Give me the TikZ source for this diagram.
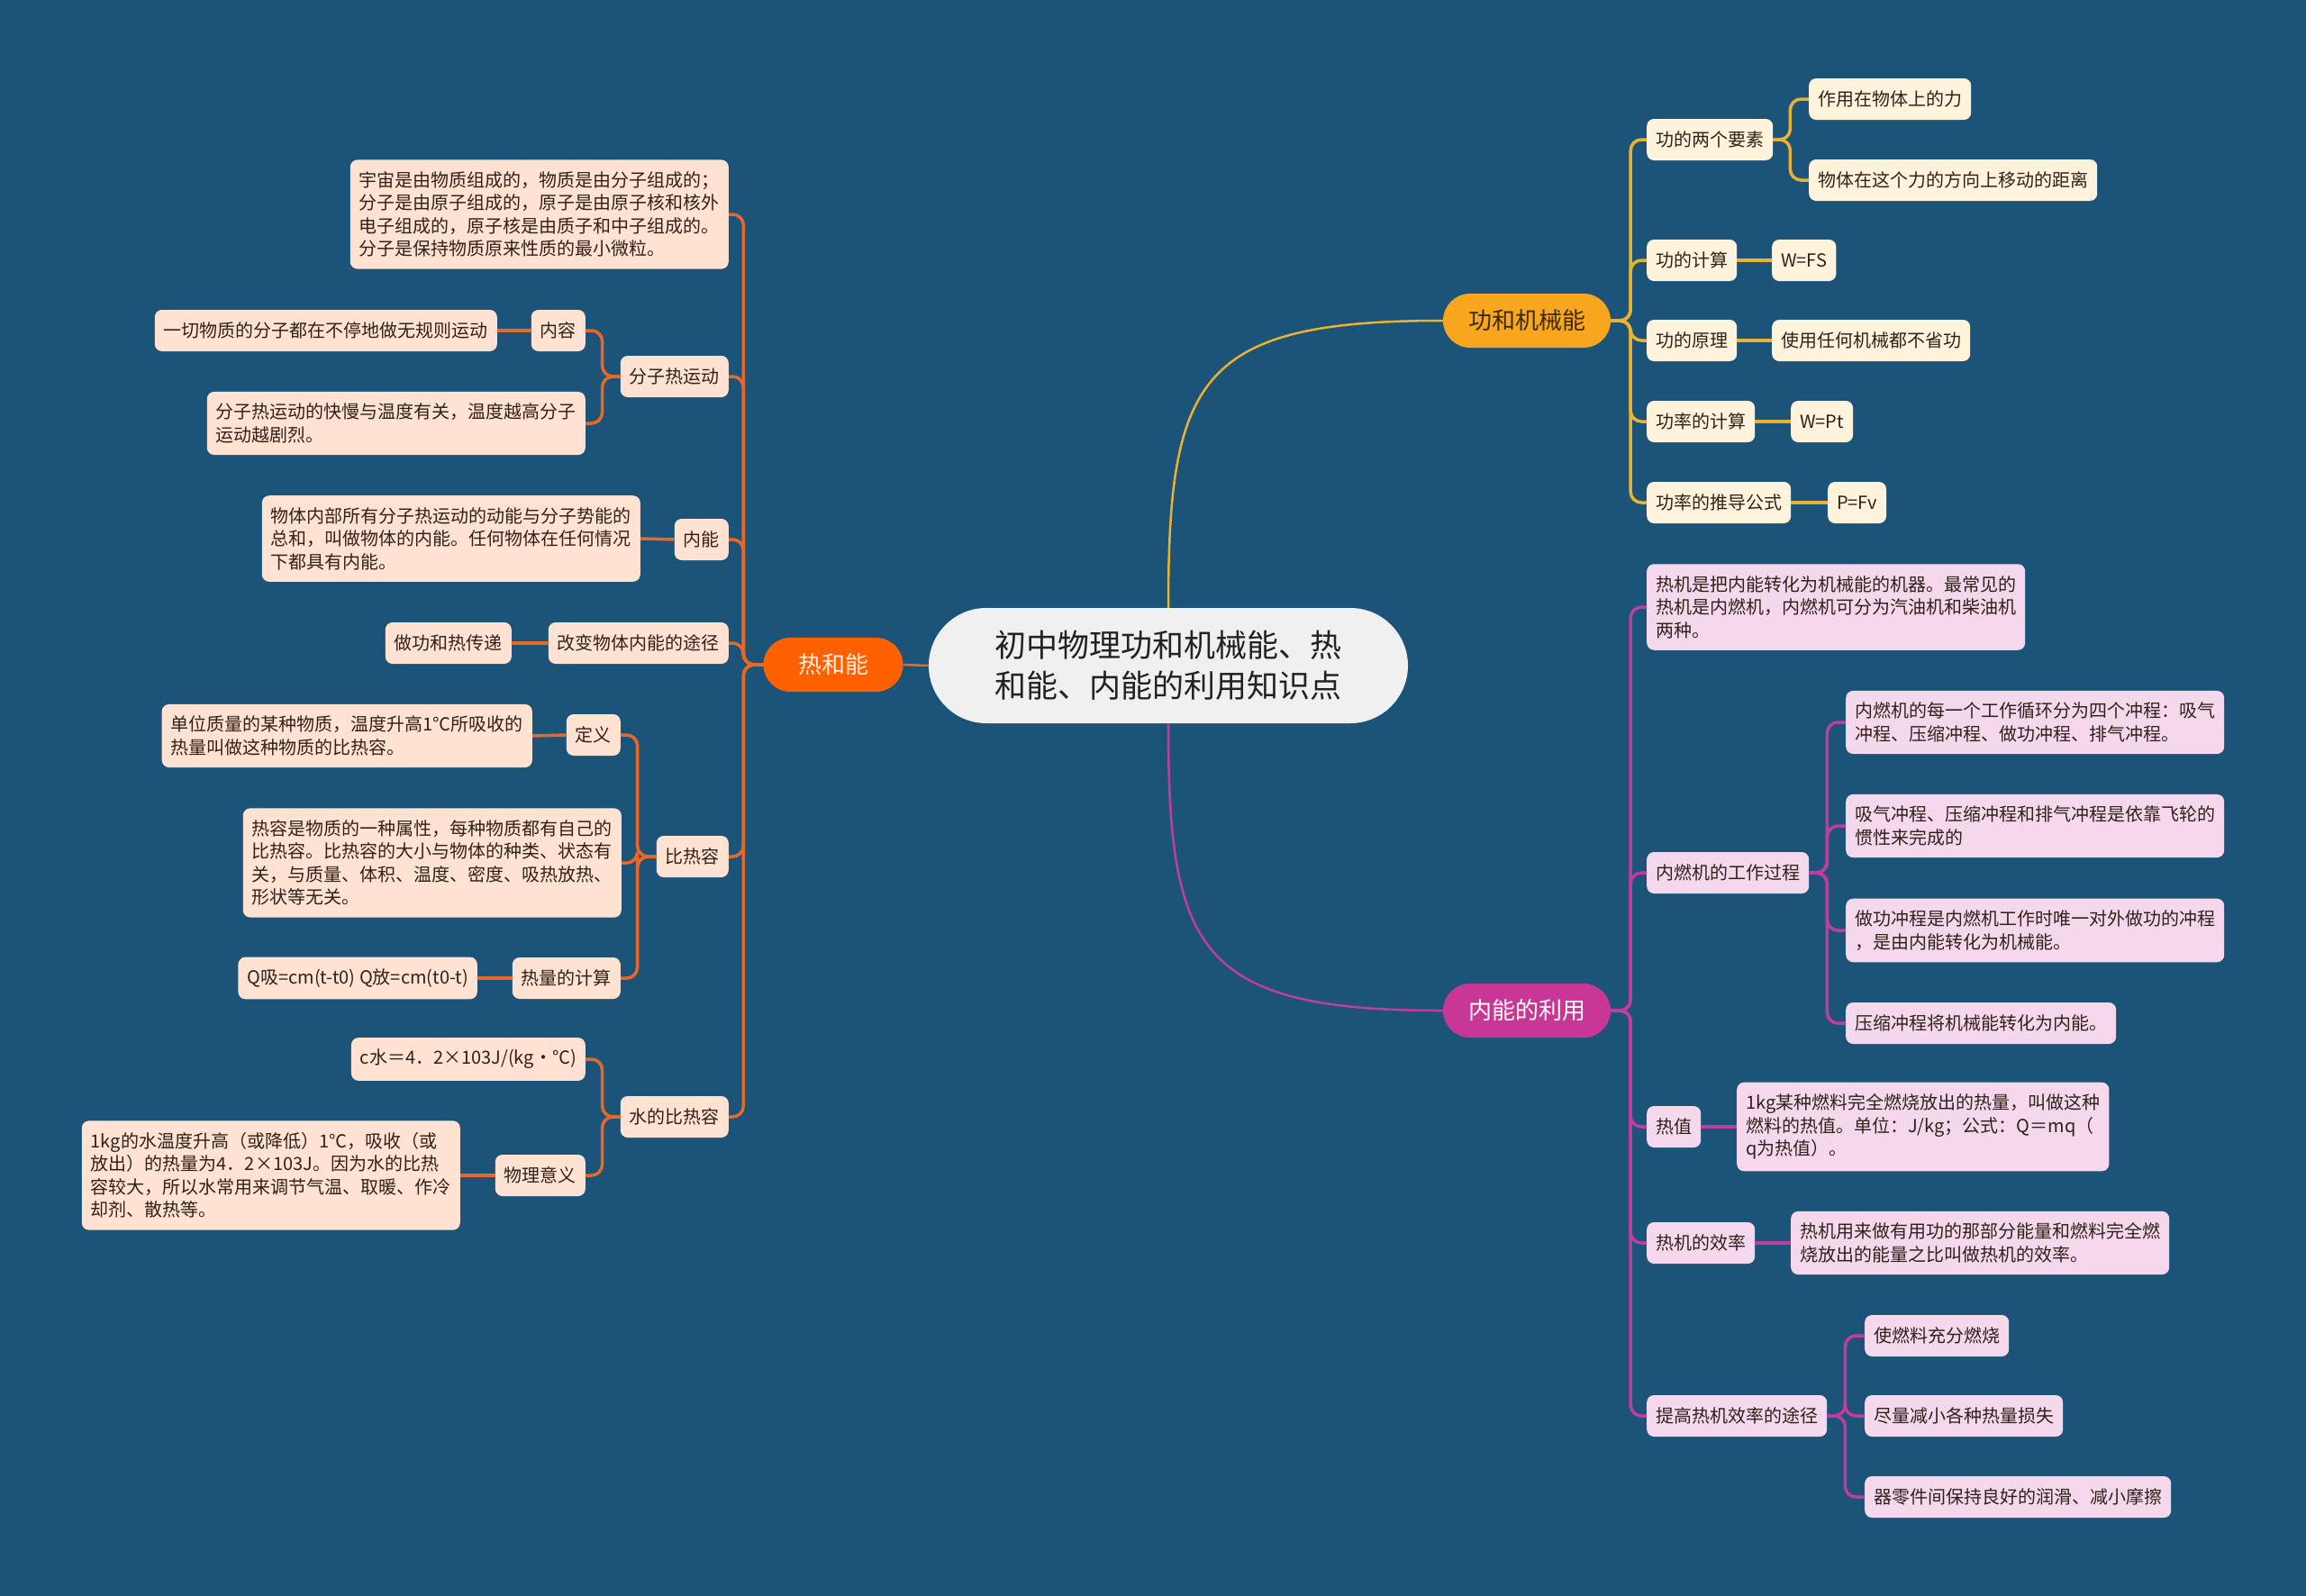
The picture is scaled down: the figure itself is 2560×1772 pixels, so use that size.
\documentclass[tikz,border=0pt]{standalone}
\usepackage{fontspec}
\setmainfont{Noto Sans CJK SC}
\begin{document}
\begin{tikzpicture}[x=1pt,y=-1pt,
  leaf/.style={rounded corners=8pt,inner xsep=10pt,inner ysep=13pt,minimum height=46pt,
    font=\fontsize{20}{25.5}\selectfont,align=left,text=leaftext},
  yleaf/.style={leaf,fill=ycream},
  oleaf/.style={leaf,fill=opeach},
  mleaf/.style={leaf,fill=mpink},
  branch/.style={rounded corners=30pt,minimum height=60pt,minimum width=155pt,inner xsep=28pt,
    font=\fontsize{26}{30}\selectfont},
  ylink/.style={draw=yline,line width=3.5pt,rounded corners=12pt},
  olink/.style={draw=oline,line width=3.5pt,rounded corners=12pt},
  mlink/.style={draw=mline,line width=3.5pt,rounded corners=12pt}]
  \definecolor{bgblue}{RGB}{27,84,120}
  \definecolor{rootfill}{RGB}{240,240,240}
  \definecolor{ybranch}{RGB}{248,166,30}
  \definecolor{obranch}{RGB}{255,96,0}
  \definecolor{mbranch}{RGB}{201,55,150}
  \definecolor{yline}{RGB}{234,178,50}
  \definecolor{oline}{RGB}{232,104,40}
  \definecolor{mline}{RGB}{192,60,160}
  \definecolor{ycream}{RGB}{255,243,220}
  \definecolor{opeach}{RGB}{255,226,210}
  \definecolor{mpink}{RGB}{246,216,236}
  \definecolor{leaftext}{RGB}{48,34,26}

  \fill[bgblue] (0,0) rectangle (2560,1772);
  \useasboundingbox (0,0) rectangle (2560,1772);

  \node[fill=rootfill,rounded corners=64pt,minimum width=532pt,minimum height=128pt,
    font=\fontsize{35}{45}\selectfont,align=center,text={rgb,255:red,34;green,34;blue,34}]
    (root) at (1297,739) {初中物理功和机械能、热\\和能、内能的利用知识点};

  \node[branch,fill=ybranch,text={rgb,255:red,60;green,40;blue,10}] (gong) at (1695,356) {功和机械能};
  \node[branch,fill=obranch,text={rgb,255:red,255;green,242;blue,228}] (rehe) at (925,738) {热和能};
  \node[branch,fill=mbranch,text=white] (neng) at (1695,1122) {内能的利用};

  \draw[yline,line width=2.5pt] (root.north) .. controls (1297,420) and (1330,356) .. (gong.west);
  \draw[mline,line width=2.5pt] (root.south) .. controls (1297,1056) and (1330,1122) .. (neng.west);
  \draw[oline,line width=2.5pt] (root.west) -- (rehe.east);

  \node[yleaf,anchor=west] (g1) at (1828,155) {功的两个要素};
  \node[yleaf,anchor=west] (g11) at (2008,110) {作用在物体上的力};
  \node[yleaf,anchor=west] (g12) at (2008,200) {物体在这个力的方向上移动的距离};
  \node[yleaf,anchor=west] (g2) at (1828,289) {功的计算};
  \node[yleaf,anchor=west] (g21) at (1967,289) {W=FS};
  \node[yleaf,anchor=west] (g3) at (1828,378) {功的原理};
  \node[yleaf,anchor=west] (g31) at (1967,378) {使用任何机械都不省功};
  \node[yleaf,anchor=west] (g4) at (1828,468) {功率的计算};
  \node[yleaf,anchor=west] (g41) at (1988,468) {W=Pt};
  \node[yleaf,anchor=west] (g5) at (1828,558) {功率的推导公式};
  \node[yleaf,anchor=west] (g51) at (2029,558) {P=Fv};

  \foreach \n in {g1,g2,g3,g4,g5}
    {\draw[ylink] (gong.east) -- ++(22,0) |- (\n.west);}
  \foreach \n in {g11,g12}
    {\draw[ylink] (g1.east) -- ++(19,0) |- (\n.west);}
  \foreach \a/\b in {g2/g21,g3/g31,g4/g41,g5/g51}
    {\draw[ylink] (\a.east) -- (\b.west);}

  \node[mleaf,anchor=west] (n1) at (1828,674) {热机是把内能转化为机械能的机器。最常见的\\热机是内燃机，内燃机可分为汽油机和柴油机\\两种。};
  \node[mleaf,anchor=west] (n2) at (1828,969) {内燃机的工作过程};
  \node[mleaf,anchor=west] (n21) at (2049,802) {内燃机的每一个工作循环分为四个冲程：吸气\\冲程、压缩冲程、做功冲程、排气冲程。};
  \node[mleaf,anchor=west] (n22) at (2049,917) {吸气冲程、压缩冲程和排气冲程是依靠飞轮的\\惯性来完成的};
  \node[mleaf,anchor=west] (n23) at (2049,1033) {做功冲程是内燃机工作时唯一对外做功的冲程\\，是由内能转化为机械能。};
  \node[mleaf,anchor=west] (n24) at (2049,1136) {压缩冲程将机械能转化为内能。};
  \node[mleaf,anchor=west] (n3) at (1828,1251) {热值};
  \node[mleaf,anchor=west] (n31) at (1928,1251) {1kg某种燃料完全燃烧放出的热量，叫做这种\\燃料的热值。单位：J/kg；公式：Q＝mq（\\q为热值）。};
  \node[mleaf,anchor=west] (n4) at (1828,1380) {热机的效率};
  \node[mleaf,anchor=west] (n41) at (1988,1380) {热机用来做有用功的那部分能量和燃料完全燃\\烧放出的能量之比叫做热机的效率。};
  \node[mleaf,anchor=west] (n5) at (1828,1572) {提高热机效率的途径};
  \node[mleaf,anchor=west] (n51) at (2070,1483) {使燃料充分燃烧};
  \node[mleaf,anchor=west] (n52) at (2070,1572) {尽量减小各种热量损失};
  \node[mleaf,anchor=west] (n53) at (2070,1662) {器零件间保持良好的润滑、减小摩擦};

  \foreach \n in {n1,n2,n3,n4,n5}
    {\draw[mlink] (neng.east) -- ++(22,0) |- (\n.west);}
  \foreach \n in {n21,n22,n23,n24}
    {\draw[mlink] (n2.east) -- ++(20,0) |- (\n.west);}
  \foreach \n in {n51,n52,n53}
    {\draw[mlink] (n5.east) -- ++(20,0) |- (\n.west);}
  \draw[mlink] (n3.east) -- (n31.west);
  \draw[mlink] (n4.east) -- (n41.west);

  \node[oleaf,anchor=east] (r1) at (809,238) {宇宙是由物质组成的，物质是由分子组成的；\\分子是由原子组成的，原子是由原子核和核外\\电子组成的，原子核是由质子和中子组成的。\\分子是保持物质原来性质的最小微粒。};
  \node[oleaf,anchor=east] (r2) at (809,418) {分子热运动};
  \node[oleaf,anchor=east] (r21) at (650,367) {内容};
  \node[oleaf,anchor=east] (r211) at (552,367) {一切物质的分子都在不停地做无规则运动};
  \node[oleaf,anchor=east] (r22) at (650,470) {分子热运动的快慢与温度有关，温度越高分子\\运动越剧烈。};
  \node[oleaf,anchor=east] (r3) at (809,599) {内能};
  \node[oleaf,anchor=east] (r31) at (711,598) {物体内部所有分子热运动的动能与分子势能的\\总和，叫做物体的内能。任何物体在任何情况\\下都具有内能。};
  \node[oleaf,anchor=east] (r4) at (809,714) {改变物体内能的途径};
  \node[oleaf,anchor=east] (r41) at (568,714) {做功和热传递};
  \node[oleaf,anchor=east] (r5) at (809,951) {比热容};
  \node[oleaf,anchor=east] (r51) at (689,816) {定义};
  \node[oleaf,anchor=east] (r511) at (591,817) {单位质量的某种物质，温度升高1℃所吸收的\\热量叫做这种物质的比热容。};
  \node[oleaf,anchor=east] (r52) at (690,958) {热容是物质的一种属性，每种物质都有自己的\\比热容。比热容的大小与物体的种类、状态有\\关，与质量、体积、温度、密度、吸热放热、\\形状等无关。};
  \node[oleaf,anchor=east] (r53) at (689,1086) {热量的计算};
  \node[oleaf,anchor=east] (r531) at (530,1086) {Q吸=cm(t-t0) Q放=cm(t0-t)};
  \node[oleaf,anchor=east] (r6) at (809,1240) {水的比热容};
  \node[oleaf,anchor=east] (r61) at (650,1176) {c水＝4．2×103J/(kg·℃)};
  \node[oleaf,anchor=east] (r62) at (650,1305) {物理意义};
  \node[oleaf,anchor=east] (r621) at (511,1305) {1kg的水温度升高（或降低）1℃，吸收（或\\放出）的热量为4．2×103J。因为水的比热\\容较大，所以水常用来调节气温、取暖、作冷\\却剂、散热等。};

  \foreach \n in {r1,r2,r3,r4,r5,r6}
    {\draw[olink] (rehe.west) -- ++(-22,0) |- (\n.east);}
  \foreach \n in {r21,r22}
    {\draw[olink] (r2.west) -- ++(-20,0) |- (\n.east);}
  \foreach \n in {r51,r52,r53}
    {\draw[olink] (r5.west) -- ++(-21,0) |- (\n.east);}
  \foreach \n in {r61,r62}
    {\draw[olink] (r6.west) -- ++(-20,0) |- (\n.east);}
  \foreach \a/\b in {r21/r211,r3/r31,r4/r41,r51/r511,r53/r531,r62/r621}
    {\draw[olink] (\a.west) -- (\b.east);}
\end{tikzpicture}
\end{document}
